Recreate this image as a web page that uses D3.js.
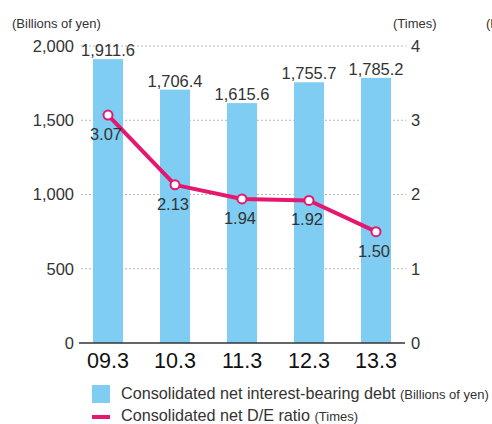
<!DOCTYPE html>
<html>
<head>
<meta charset="utf-8">
<script src="https://cdn.jsdelivr.net/npm/d3@7"></script>
<style>
  body { margin: 0; background: #fff; }
  svg { display: block; font-family: "Liberation Sans", Arial, sans-serif; }
</style>
</head>
<body>
<div id="chart"></div>
<script>
// chart data
var years = ["09.3", "10.3", "11.3", "12.3", "13.3"];
var debt = [1911.6, 1706.4, 1615.6, 1755.7, 1785.2];
var deRatio = [3.07, 2.13, 1.94, 1.92, 1.50];
var leftTicks = [0, 500, 1000, 1500, 2000];
var rightTicks = [0, 1, 2, 3, 4];

var W = 492, H = 424;
var barColor = "#7fcdf2", lineColor = "#e5176e", textColor = "#333";
var font = "Liberation Sans, Arial, sans-serif";

var svg = d3.select("#chart")
  .append("svg")
  .attr("width", W)
  .attr("height", H);

// scales
var x = d3.scaleBand()
  .domain(years)
  .range([74.5, 409.5]);

var y = d3.scaleLinear()
  .domain([0, 2000])
  .range([343, 46]);

var y2 = d3.scaleLinear()
  .domain([0, 4])
  .range([343, 46]);

var barW = 30;
function cx(d) { return x(d) + x.bandwidth() / 2; }

// dotted gridlines
svg.selectAll(".grid")
  .data(leftTicks.filter(function(t) { return t > 0; }))
  .enter()
  .append("line")
  .attr("x1", 81)
  .attr("x2", 406)
  .attr("y1", function(d) { return y(d); })
  .attr("y2", function(d) { return y(d); })
  .attr("stroke", "#b5b5b5")
  .attr("stroke-width", 1)
  .attr("stroke-dasharray", "2,2");

// bars
svg.selectAll(".bar")
  .data(debt)
  .enter()
  .append("rect")
  .attr("x", function(d, i) { return cx(years[i]) - barW / 2; })
  .attr("y", function(d) { return y(d); })
  .attr("width", barW)
  .attr("height", function(d) { return y(0) - y(d); })
  .attr("fill", barColor);

// bar value labels
svg.selectAll(".barlabel")
  .data(debt)
  .enter()
  .append("text")
  .attr("x", function(d, i) { return cx(years[i]); })
  .attr("y", function(d) { return y(d) - 3; })
  .attr("text-anchor", "middle")
  .attr("font-size", 16.5)
  .attr("fill", textColor)
  .text(function(d) { return d3.format(",.1f")(d); });

// baseline
svg.append("line")
  .attr("x1", 79).attr("x2", 405)
  .attr("y1", y(0)).attr("y2", y(0))
  .attr("stroke", "#333")
  .attr("stroke-width", 1.3);

// left axis
var leftAxis = svg.append("g")
  .attr("transform", "translate(79,0)")
  .call(d3.axisLeft(y).tickValues(leftTicks).tickSize(0).tickPadding(5).tickFormat(d3.format(",")));
leftAxis.select(".domain").remove();
leftAxis.selectAll("text")
  .attr("font-size", 16.5)
  .attr("font-family", font)
  .attr("fill", textColor);

// right axis
var rightAxis = svg.append("g")
  .attr("transform", "translate(405,0)")
  .call(d3.axisRight(y2).tickValues(rightTicks).tickSize(0).tickPadding(6).tickFormat(d3.format("d")));
rightAxis.select(".domain").remove();
rightAxis.selectAll("text")
  .attr("font-size", 16.5)
  .attr("font-family", font)
  .attr("fill", textColor);

// x axis labels
var xAxis = svg.append("g")
  .attr("transform", "translate(0," + y(0) + ")")
  .call(d3.axisBottom(x).tickSize(0).tickPadding(10));
xAxis.select(".domain").remove();
xAxis.selectAll("text")
  .attr("font-size", 21.5)
  .attr("font-family", font)
  .attr("fill", "#111");

// D/E ratio line
var line = d3.line()
  .x(function(d, i) { return cx(years[i]); })
  .y(function(d) { return y2(d); });

svg.append("path")
  .datum(deRatio)
  .attr("d", line)
  .attr("fill", "none")
  .attr("stroke", lineColor)
  .attr("stroke-width", 4)
  .attr("stroke-linejoin", "round");

svg.selectAll(".pt")
  .data(deRatio)
  .enter()
  .append("circle")
  .attr("cx", function(d, i) { return cx(years[i]); })
  .attr("cy", function(d) { return y2(d); })
  .attr("r", 4.5)
  .attr("fill", "#fff")
  .attr("stroke", lineColor)
  .attr("stroke-width", 2);

svg.selectAll(".ptlabel")
  .data(deRatio)
  .enter()
  .append("text")
  .attr("x", function(d, i) { return cx(years[i]) - 2; })
  .attr("y", function(d) { return y2(d) + 25; })
  .attr("text-anchor", "middle")
  .attr("font-size", 16.5)
  .attr("fill", textColor)
  .text(function(d) { return d.toFixed(2); });

// axis titles
svg.append("text")
  .attr("x", 12).attr("y", 28)
  .attr("font-size", 13)
  .attr("fill", textColor)
  .text("(Billions of yen)");

svg.append("text")
  .attr("x", 393).attr("y", 28)
  .attr("font-size", 13)
  .attr("fill", textColor)
  .text("(Times)");

// edge of the neighbouring chart's title
svg.append("text")
  .attr("x", 486).attr("y", 28)
  .attr("font-size", 13)
  .attr("fill", textColor)
  .text("(B");

// legend
svg.append("rect")
  .attr("x", 92).attr("y", 385)
  .attr("width", 18).attr("height", 18)
  .attr("fill", barColor);

var lg1 = svg.append("text")
  .attr("x", 121).attr("y", 399)
  .attr("font-size", 16.2)
  .attr("fill", textColor);
lg1.append("tspan").text("Consolidated net interest-bearing debt ");
lg1.append("tspan").attr("font-size", 13).text("(Billions of yen)");

svg.append("line")
  .attr("x1", 92).attr("x2", 110)
  .attr("y1", 417).attr("y2", 417)
  .attr("stroke", lineColor)
  .attr("stroke-width", 4);

var lg2 = svg.append("text")
  .attr("x", 121).attr("y", 421)
  .attr("font-size", 16.2)
  .attr("fill", textColor);
lg2.append("tspan").text("Consolidated net D/E ratio ");
lg2.append("tspan").attr("font-size", 13).text("(Times)");
</script>
</body>
</html>
